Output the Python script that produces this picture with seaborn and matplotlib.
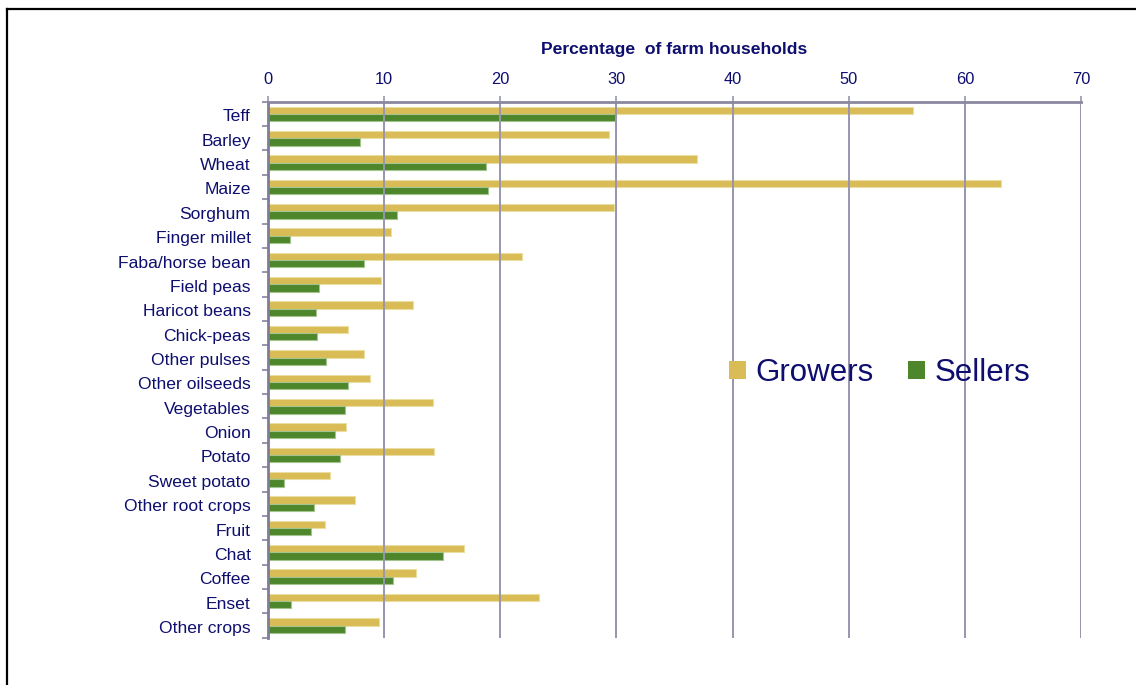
import matplotlib
matplotlib.use("Agg")
import matplotlib.pyplot as plt
from matplotlib.patches import Patch
from matplotlib.lines import Line2D
from matplotlib.transforms import ScaledTranslation
import seaborn as sns
import pandas as pd

# Crops, top to bottom
crops = [
    "Teff", "Barley", "Wheat", "Maize", "Sorghum", "Finger millet",
    "Faba/horse bean", "Field peas", "Haricot beans", "Chick-peas",
    "Other pulses", "Other oilseeds", "Vegetables", "Onion", "Potato",
    "Sweet potato", "Other root crops", "Fruit", "Chat", "Coffee",
    "Enset", "Other crops",
]

# Share of farm households (%) growing / selling each crop
growers = [55.5, 29.4, 36.9, 63.1, 29.8, 10.6, 21.9, 9.7, 12.5, 6.9,
           8.3, 8.8, 14.2, 6.7, 14.3, 5.3, 7.5, 4.9, 16.9, 12.7, 23.3, 9.6]
sellers = [30.0, 7.9, 18.8, 18.9, 11.1, 1.9, 8.3, 4.4, 4.1, 4.2,
           5.0, 6.9, 6.6, 5.8, 6.2, 1.4, 4.0, 3.7, 15.1, 10.8, 2.0, 6.6]

groups = ["Growers", "Sellers"]
x_ticks = [0, 10, 20, 30, 40, 50, 60, 70]

df = pd.DataFrame({
    "crop": crops * 2,
    "group": ["Growers"] * len(crops) + ["Sellers"] * len(crops),
    "value": growers + sellers,
})

TEXT = "#0E0E6E"
GRID = "#9896AE"
colors = {"Growers": "#D9BC55", "Sellers": "#4E862B"}
rims = {"Growers": "#EBDEA4", "Sellers": "#A3C48D"}

sns.set_theme(style="white")
plt.rcParams["font.family"] = ["Liberation Sans", "DejaVu Sans"]

fig = plt.figure(figsize=(11.36, 6.85), dpi=100)
ax = fig.add_axes([268 / 1136, 1 - 637.7 / 685, (1081 - 268) / 1136, (637.7 - 101.7) / 685])

sns.barplot(data=df, y="crop", x="value", hue="group", order=crops,
            hue_order=groups, palette=colors, orient="h", width=0.6,
            saturation=1, legend=False, ax=ax, zorder=2)

# soft lighter rim on each bar
for container, g in zip(ax.containers, groups):
    for bar in container:
        bar.set_edgecolor(rims[g])
        bar.set_linewidth(0.8)

ax.set_xlim(0, 70)
ax.set_ylim(len(crops) - 0.5, -0.5)
ax.set_xticks(x_ticks)

# x axis on top
ax.xaxis.tick_top()
ax.xaxis.set_label_position("top")
ax.set_xlabel("Percentage  of farm households", fontsize=12.6,
              fontweight="bold", color=TEXT, labelpad=13)
ax.set_ylabel("")
ax.tick_params(axis="x", which="major", top=True, bottom=False,
               length=4, width=1.2, color=GRID, pad=6.5,
               labelsize=11.8, labelcolor=TEXT)

# category labels without ticks, separator ticks between categories
ax.set_yticks(range(len(crops)))
ax.set_yticklabels(crops)
ax.tick_params(axis="y", which="major", left=False, length=0, pad=12.5,
               labelsize=12.6, labelcolor=TEXT)
ax.set_yticks([i - 0.5 for i in range(len(crops) + 1)], minor=True)
ax.tick_params(axis="y", which="minor", left=True, length=4.5, width=1.4,
               color=GRID)
# nudge category labels slightly down
shift = ScaledTranslation(0, -3 / 100, fig.dpi_scale_trans)
for lab in ax.get_yticklabels():
    lab.set_va("center")
    lab.set_transform(lab.get_transform() + shift)

# vertical gridlines
ax.grid(False)
for v in x_ticks[1:]:
    ax.axvline(v, color=GRID, linewidth=1.4, zorder=3)

for side in ["right", "bottom"]:
    ax.spines[side].set_visible(False)
ax.spines["top"].set_color("#8A88A0")
ax.spines["top"].set_linewidth(2)
ax.spines["left"].set_color("#7E7C96")
ax.spines["left"].set_linewidth(2)
ax.spines["top"].set_zorder(4)
ax.spines["left"].set_zorder(4)

# legend
handles = [Patch(facecolor=colors[g], edgecolor="none", label=g) for g in groups]
fig.legend(handles=handles, loc="center left",
           bbox_to_anchor=(729 / 1136, 1 - 373 / 685),
           bbox_transform=fig.transFigure, ncol=2, frameon=False,
           fontsize=22.5, labelcolor=TEXT, handlelength=0.55, handleheight=0.55,
           handletextpad=0.3, columnspacing=1.1, borderpad=0,
           borderaxespad=0)

# outer frame: left and top edges
x0 = 6.5 / 1136
y0 = 1 - 8.5 / 685
fig.add_artist(Line2D([x0, x0], [0, y0], transform=fig.transFigure,
                      color="black", linewidth=1.6, solid_capstyle="projecting"))
fig.add_artist(Line2D([x0, 1], [y0, y0], transform=fig.transFigure,
                      color="black", linewidth=1.6, solid_capstyle="projecting"))

fig.savefig("out.png", dpi=100)
